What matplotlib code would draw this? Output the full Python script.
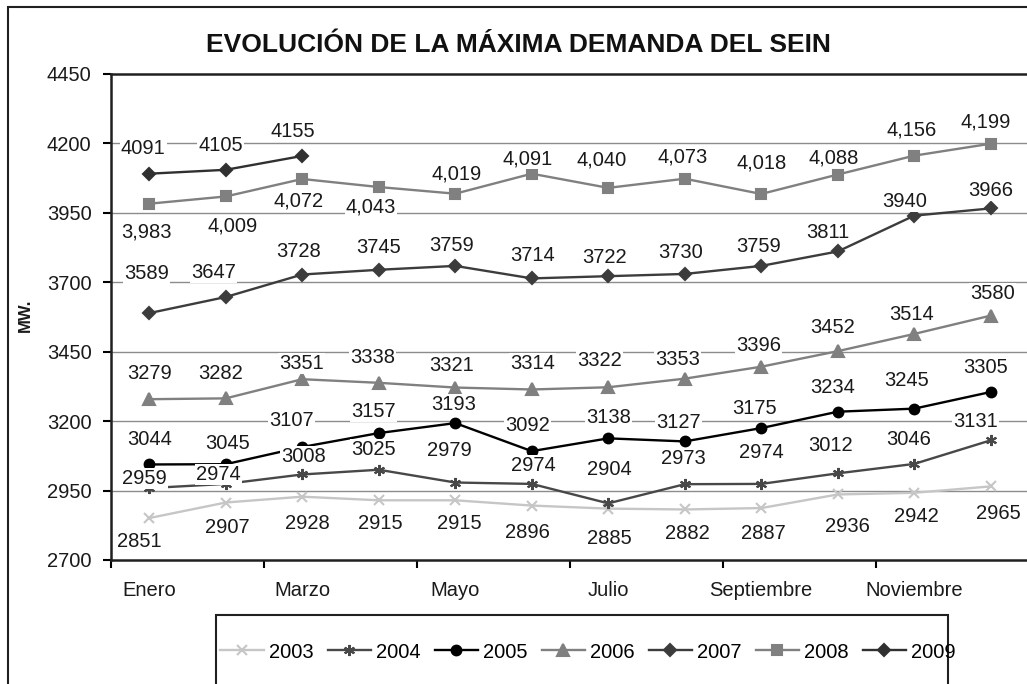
import matplotlib
matplotlib.use("Agg")
import matplotlib.pyplot as plt
from matplotlib.patches import Rectangle
from matplotlib.lines import Line2D

plt.rcParams['font.family'] = ['Liberation Sans', 'DejaVu Sans']

# ---------------- data ----------------
months = ["Enero", "Febrero", "Marzo", "Abril", "Mayo", "Junio", "Julio",
          "Agosto", "Septiembre", "Octubre", "Noviembre", "Diciembre"]
years = ["2003", "2004", "2005", "2006", "2007", "2008", "2009"]
v2003 = [2851, 2907, 2928, 2915, 2915, 2896, 2885, 2882, 2887, 2936, 2942, 2965]
v2004 = [2959, 2974, 3008, 3025, 2979, 2974, 2904, 2973, 2974, 3012, 3046, 3131]
v2005 = [3044, 3045, 3107, 3157, 3193, 3092, 3138, 3127, 3175, 3234, 3245, 3305]
v2006 = [3279, 3282, 3351, 3338, 3321, 3314, 3322, 3353, 3396, 3452, 3514, 3580]
v2007 = [3589, 3647, 3728, 3745, 3759, 3714, 3722, 3730, 3759, 3811, 3940, 3966]
v2008 = [3983, 4009, 4072, 4043, 4019, 4091, 4040, 4073, 4018, 4088, 4156, 4199]
v2009 = [4091, 4105, 4155]
yticks = [2700, 2950, 3200, 3450, 3700, 3950, 4200, 4450]
title = "EVOLUCIÓN DE LA MÁXIMA DEMANDA DEL SEIN"
ylabel = "MW."

# ---------------- styles / layout ----------------
series = [v2003, v2004, v2005, v2006, v2007, v2008, v2009]
colors = ["#c6c6c6", "#484848", "#000000", "#808080", "#3c3c3c", "#808080", "#303030"]
markers = ["x", (6, 2, 0), "o", "^", "D", "s", "D"]
msizes = [7, 8, 7, 8, 6, 7, 6]
fmts = ["{:d}", "{:d}", "{:d}", "{:d}", "{:d}", "{:,d}", "{:d}"]
# label offsets (pixels, centre of label relative to point; +y = up)
lab_dy = [
    [-23, -25, -27, -23, -23, -27, -30, -24, -25, -32, -24, -27],
    [10, 9, 18, 20, 32, 18, 34, 26, 31, 28, 24, 19],
    [25, 21, 26, 22, 19, 26, 21, 19, 20, 24, 28, 24],
    [26, 25, 16, 25, 22, 26, 27, 19, 21, 24, 19, 22],
    [40, 25, 23, 22, 20, 23, 19, 21, 19, 19, 14, 18],
    [-28, -30, -22, -20, 20, 15, 28, 22, 31, 17, 26, 22],
    [25, 24, 24],
]
lab_dx = [
    [-10, 2, 5, 2, 4, -4, 1, 3, 2, 10, 2, 8],
    [-5, -7, 1, -5, -6, 2, 1, -1, 0, -7, -6, -15],
    [0, 2, -11, -5, -2, -4, 0, -6, -7, -5, -8, -5],
    [0, -5, -1, -6, -4, 1, -9, -7, -3, -5, -3, 2],
    [-3, -12, -4, 0, -4, 1, -4, -4, -3, -10, -10, 0],
    [-3, 7, -4, -8, 1, -4, -7, -2, 0, -4, -3, -5],
    [-6, -5, -9],
]
FS = 14.5

W, H = 1027, 684
fig = plt.figure(figsize=(W / 100, H / 100), dpi=100)

# outer frame
fig.add_artist(Rectangle((8 / W, -0.1), 1.2, 1 - 7 / H + 0.1, transform=fig.transFigure,
                         fill=False, edgecolor="#202020", linewidth=1.5))

ax = fig.add_axes([111 / W, (H - 560) / H, 918 / W, 486 / H])
ax.set_xlim(-0.5, 11.5)
ax.set_ylim(2700, 4450)

for y in yticks[1:-1]:
    ax.axhline(y, color="#8c8c8c", linewidth=1.0, zorder=0)

x = list(range(12))
for i, (vals, yr) in enumerate(zip(series, years)):
    xs = x[:len(vals)]
    ax.plot(xs, vals, color=colors[i], marker=markers[i], markersize=msizes[i],
            markeredgewidth=1.5, linewidth=1.7, label=yr, zorder=3, clip_on=False)
    for j, v in enumerate(vals):
        ax.annotate(fmts[i].format(v), (xs[j], v), xytext=(lab_dx[i][j], lab_dy[i][j]),
                    textcoords="offset pixels", ha="center", va="center",
                    fontsize=FS, color="#1a1a1a", zorder=4,
                    bbox=dict(boxstyle="square,pad=0.05", facecolor="white",
                              edgecolor="none"))

for s in ax.spines.values():
    s.set_color("#202020")
    s.set_linewidth(1.8)

ax.set_yticks(yticks)
ax.set_yticklabels([str(t) for t in yticks], fontsize=FS, color="#1a1a1a")
ax.tick_params(axis="y", direction="out", length=6, width=1.5, pad=8)

ax.set_xticks([k - 0.5 for k in range(0, 12, 2)] + [11.5])
ax.set_xticklabels([])
ax.tick_params(axis="x", which="major", direction="out", length=6, width=1.5)
ax.set_xticks(x[::2], minor=True)
ax.set_xticklabels(months[::2], minor=True, fontsize=FS, color="#1a1a1a")
ax.tick_params(axis="x", which="minor", length=0, pad=15)

fig.text(25 / W, 1 - 315 / H, ylabel, rotation=90, ha="center", va="center",
         fontsize=12, fontweight="bold", color="#1a1a1a")
fig.text(518 / W, 1 - 45 / H, title, ha="center", va="center",
         fontsize=19, fontweight="bold", color="#111111")

# legend box
fig.add_artist(Rectangle((216 / W, -0.1), (948 - 216) / W, (H - 615) / H + 0.1,
                         transform=fig.transFigure, fill=False,
                         edgecolor="#202020", linewidth=1.5))
handles = [Line2D([], [], color=colors[i], marker=markers[i], markersize=msizes[i],
                  markeredgewidth=1.5, linewidth=1.7) for i in range(7)]
fig.legend(handles, years, loc="center", bbox_to_anchor=(588 / W, 1 - 652 / H),
           ncol=7, frameon=False, fontsize=FS, handlelength=2.15, handletextpad=0.25,
           columnspacing=0.7, borderpad=0)

fig.savefig("out.png", dpi=100)
